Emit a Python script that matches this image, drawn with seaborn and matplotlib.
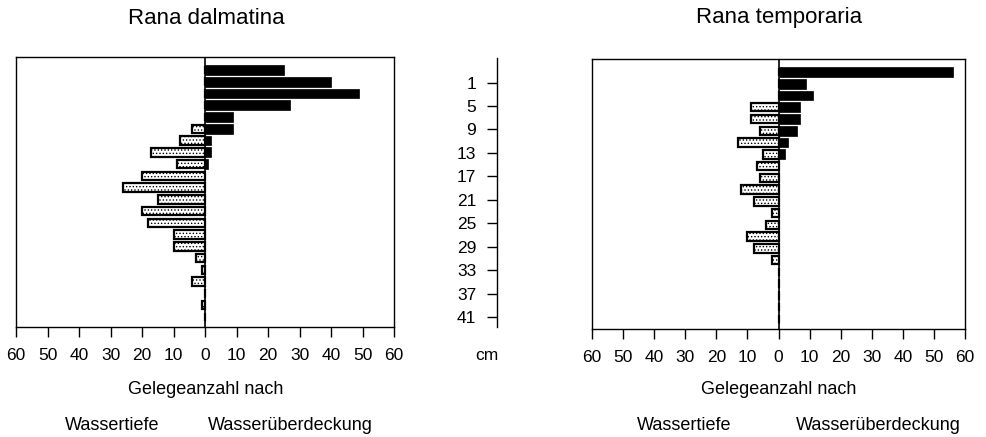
import numpy as np
import pandas as pd
import seaborn as sns
import matplotlib.pyplot as plt

sns.set_theme(style="white")
plt.rcParams['font.family'] = ['Liberation Sans', 'DejaVu Sans']
plt.rcParams['hatch.linewidth'] = 0.6
plt.rcParams['text.color'] = 'black'
plt.rcParams['xtick.color'] = 'black'
plt.rcParams['ytick.color'] = 'black'
plt.rcParams['axes.labelcolor'] = 'black'

# depth classes (cm)
tiefe_cm = [-1, 1, 3, 5, 7, 9, 11, 13, 15, 17, 19, 21, 23, 25, 27, 29, 31, 33, 35, 37, 39, 41]

# Rana dalmatina
dalm_ueber = [25, 40, 49, 27, 9, 9, 2, 2, 1, 0, 0, 0, 0, 0, 0, 0, 0, 0, 0, 0, 0, 0]
dalm_tiefe = [0, 0, 0, 0, 0, 4, 8, 17, 9, 20, 26, 15, 20, 18, 10, 10, 3, 1, 4, 0, 1, 0]

# Rana temporaria
temp_ueber = [56, 9, 11, 7, 7, 6, 3, 2, 0, 0, 0, 0, 0, 0, 0, 0, 0, 0, 0, 0, 0, 0]
temp_tiefe = [0, 0, 0, 9, 9, 6, 13, 5, 7, 6, 12, 8, 2, 4, 10, 8, 2, 0, 0, 0, 0, 0]

x_ticks = list(range(-60, 61, 10))
y_ticks = [1, 5, 9, 13, 17, 21, 25, 29, 33, 37, 41]
titles = ["Rana dalmatina", "Rana temporaria"]

W, H = 986, 437
fig = plt.figure(figsize=(W / 100, H / 100), dpi=100)
ax1 = fig.add_axes([16 / W, 110 / H, 378 / W, 270 / H])
ax2 = fig.add_axes([592 / W, 108 / H, 373 / W, 270 / H])
axm = fig.add_axes([497 / W, 110 / H, 0.0005, 269 / H])

ylim = (42.7, -3.2)


def panel(ax, ueber, tiefe):
    d_u = pd.DataFrame({"cm": tiefe_cm, "n": ueber})
    d_t = pd.DataFrame({"cm": tiefe_cm, "n": [-v for v in tiefe]})
    sns.barplot(data=d_t, x="n", y="cm", orient="h", native_scale=True,
                color="white", saturation=1, edgecolor="black", linewidth=1.6,
                hatch=".....", width=0.72, ax=ax, errorbar=None)
    sns.barplot(data=d_u, x="n", y="cm", orient="h", native_scale=True,
                color="black", saturation=1, edgecolor="black", linewidth=0.5,
                width=0.82, ax=ax, errorbar=None)
    ax.axvline(0, color="black", lw=1.2)
    ax.set_xlim(-60, 60)
    ax.set_ylim(*ylim)
    ax.set_xticks(x_ticks)
    ax.set_xticklabels([str(abs(t)) for t in x_ticks])
    ax.set_yticks([])
    ax.set_xlabel("")
    ax.set_ylabel("")
    for s in ax.spines.values():
        s.set_visible(True)
        s.set_color("black")
        s.set_linewidth(1.0)
    ax.tick_params(axis="x", bottom=True, direction="out", length=7, width=1,
                   color="black", labelsize=12.5, pad=8, labelcolor="black")


panel(ax1, dalm_ueber, dalm_tiefe)
panel(ax2, temp_ueber, temp_tiefe)

# middle depth axis
axm.set_ylim(*ylim)
axm.set_yticks(y_ticks)
axm.set_yticklabels([str(t) for t in y_ticks])
axm.set_xticks([])
axm.patch.set_visible(False)
for k, s in axm.spines.items():
    s.set_visible(k == "left")
axm.spines["left"].set_color("black")
axm.spines["left"].set_linewidth(1.0)
axm.tick_params(axis="y", left=True, direction="out", length=7, width=1,
                color="black", labelsize=12.5, pad=8, labelcolor="black")

fig.text(487 / W, 1 - 356 / H, "cm", ha="center", va="center", fontsize=12.5)

for cx, title in zip([206, 779], titles):
    fig.text(cx / W, 1 - 18 / H, title, ha="center", va="center", fontsize=16)
    fig.text(cx / W, 1 - 389 / H, "Gelegeanzahl nach", ha="center", va="center", fontsize=13)

for cx in [112, 684]:
    fig.text(cx / W, 1 - 425 / H, "Wassertiefe", ha="center", va="center", fontsize=13)
for cx in [290, 878]:
    fig.text(cx / W, 1 - 425 / H, "Wasserüberdeckung", ha="center", va="center", fontsize=13)

fig.savefig("out.png", dpi=100)
